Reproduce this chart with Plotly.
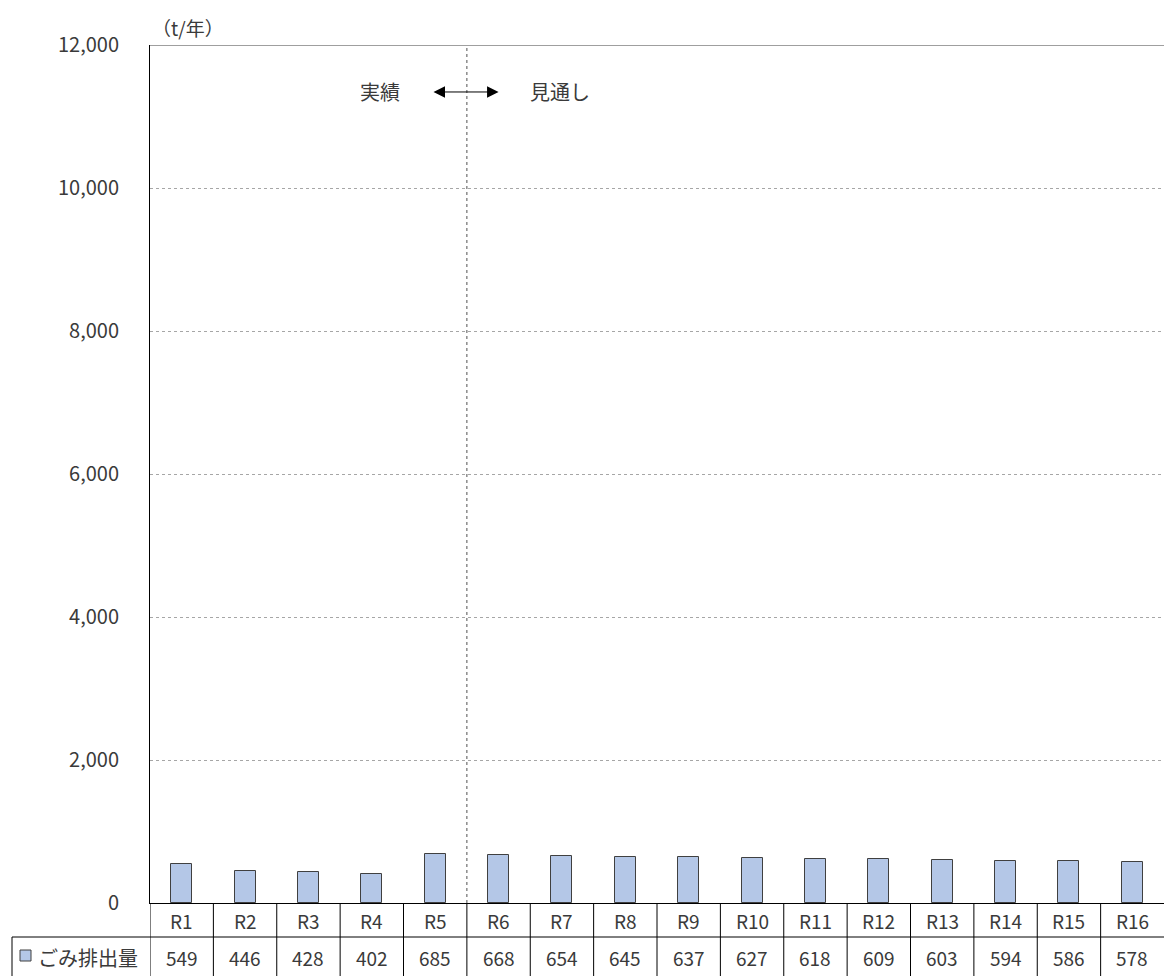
import plotly.graph_objects as go

categories = ["R1", "R2", "R3", "R4", "R5", "R6", "R7", "R8", "R9", "R10",
              "R11", "R12", "R13", "R14", "R15", "R16"]
values = [549, 446, 428, 402, 685, 668, 654, 645, 637, 627, 618, 609, 603, 594, 586, 578]
series_name = "ごみ排出量"
y_ticks = [0, 2000, 4000, 6000, 8000, 10000, 12000]
unit_label = "（t/年）"
left_note = "実績"
right_note = "見通し"

W, H = 1164, 976
L, R, T, B = 150, 0, 45, 73
PW, PH = W - L - R, H - T - B
FONT = "Noto Sans CJK JP"
BAR = "#B4C7E7"
EDGE = "#404040"
TXT = "#3a3a3a"

def px_x(p):
    return (p - L) / PW

def px_y(p):
    return (H - B - p) / PH

n = len(categories)
xs = list(range(n))

fig = go.Figure()
fig.add_trace(go.Bar(
    x=xs, y=values, width=0.33,
    marker=dict(color=BAR, line=dict(color=EDGE, width=1)),
    showlegend=False, hoverinfo="skip",
))

shapes = []
shapes.append(dict(type="line", xref="paper", yref="y", x0=0, x1=1, y0=12000, y1=12000,
                   line=dict(color="#404040", width=1)))
shapes.append(dict(type="line", xref="x", yref="y", x0=4.5, x1=4.5, y0=0, y1=12000,
                   line=dict(color="#505050", width=1, dash="dot")))
row1 = px_y(937)
bottom = px_y(990)
for k in range(n):
    shapes.append(dict(type="line", xref="x", yref="paper", x0=k - 0.5, x1=k - 0.5,
                       y0=0, y1=bottom, line=dict(color="black", width=1)))
shapes.append(dict(type="line", xref="paper", yref="paper", x0=px_x(12), x1=1,
                   y0=row1, y1=row1, line=dict(color="black", width=1)))
shapes.append(dict(type="line", xref="paper", yref="paper", x0=px_x(12), x1=px_x(12),
                   y0=row1, y1=bottom, line=dict(color="black", width=1)))
shapes.append(dict(type="rect", xref="paper", yref="paper", x0=px_x(20), x1=px_x(31),
                   y0=px_y(961), y1=px_y(950), fillcolor=BAR,
                   line=dict(color=EDGE, width=1)))

FS = 20
ann = []
for i, (c, v) in enumerate(zip(categories, values)):
    ann.append(dict(x=i, y=px_y(920), xref="x", yref="paper", text=c, showarrow=False,
                    xanchor="center", yanchor="middle", font=dict(size=FS - 1, color=TXT)))
    ann.append(dict(x=i, y=px_y(957), xref="x", yref="paper", text=f"{v:,}", showarrow=False,
                    xanchor="center", yanchor="middle", font=dict(size=FS - 1, color=TXT)))
ann.append(dict(x=px_x(36), y=px_y(957), xref="paper", yref="paper", text=series_name,
                showarrow=False, xanchor="left", yanchor="middle",
                font=dict(size=FS, color=TXT)))
ann.append(dict(x=px_x(150), y=px_y(28), xref="paper", yref="paper", text=unit_label,
                showarrow=False, xanchor="left", yanchor="middle", font=dict(size=FS - 1, color=TXT)))
ann.append(dict(x=3.13, y=11343, xref="x", yref="y", text=left_note, showarrow=False,
                xanchor="center", yanchor="middle", font=dict(size=FS, color=TXT)))
ann.append(dict(x=5.97, y=11343, xref="x", yref="y", text=right_note, showarrow=False,
                xanchor="center", yanchor="middle", font=dict(size=FS, color=TXT)))
ann.append(dict(x=5.0, y=11343, ax=3.95, ay=11343, xref="x", yref="y", axref="x", ayref="y",
                text="", showarrow=True, arrowside="end+start", arrowhead=2,
                arrowsize=2.3, arrowwidth=1, arrowcolor="black"))

fig.update_layout(
    width=W, height=H,
    margin=dict(l=L, r=R, t=T, b=B),
    plot_bgcolor="white", paper_bgcolor="white",
    font=dict(family=FONT, size=FS, color=TXT),
    shapes=shapes, annotations=ann,
    bargap=0,
)
fig.update_xaxes(range=[-0.5, n - 0.5], showticklabels=False, ticks="", showgrid=False,
                 showline=True, linecolor="black", linewidth=1, zeroline=False, fixedrange=True)
fig.update_yaxes(range=[0, 12000], tickvals=y_ticks, tickformat=",", ticks="",
                 ticklabelstandoff=26, showgrid=True, gridcolor="#A6A6A6", griddash="dot",
                 gridwidth=1, showline=True, linecolor="black", linewidth=1, zeroline=False,
                 tickfont=dict(size=FS, color=TXT), fixedrange=True)

fig.write_html(
    "out.html",
    config={"displayModeBar": False},
    post_script="document.body.style.margin='0';document.body.style.overflow='hidden';",
)
